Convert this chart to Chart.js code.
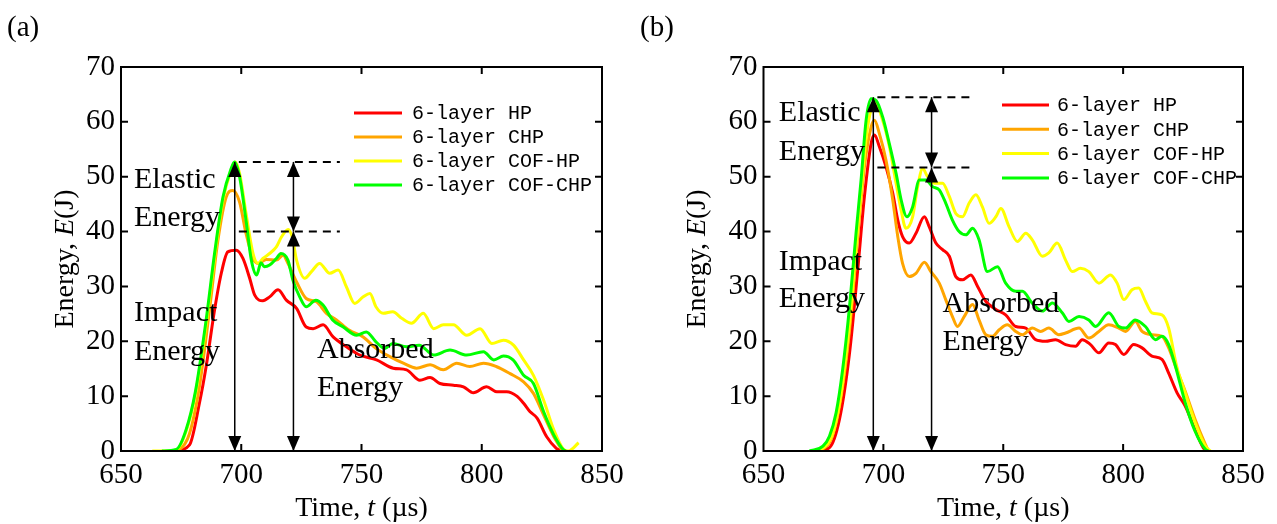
<!DOCTYPE html>
<html><head><meta charset="utf-8">
<script src="https://cdn.jsdelivr.net/npm/chart.js@4.4.1/dist/chart.umd.min.js"></script>
<style>
html,body{margin:0;padding:0;background:#fff;width:1277px;height:524px;overflow:hidden}
canvas{position:absolute;top:0}
#ca{left:0}
#cb{left:637px}
</style></head><body>
<canvas id="ca" width="640" height="524"></canvas>
<canvas id="cb" width="640" height="524"></canvas>
<script>
// ---------- shared ----------
const seriesLabels = ['6-layer HP', '6-layer CHP', '6-layer COF-HP', '6-layer COF-CHP'];
const seriesColors = ['#ff0000', '#ffa500', '#ffff00', '#00ff00'];
const xTicks = [650, 700, 750, 800, 850];
const yTicks = [0, 10, 20, 30, 40, 50, 60, 70];
const noteWords = ['Elastic', 'Energy', 'Impact', 'Energy', 'Absorbed', 'Energy'];

// ---------- panel (a) ----------
const aHP_t = [673, 678.5, 682.6, 685.4, 688.9, 691.7, 694.4, 697.9, 700.7, 703.5, 705.6, 709, 711.8, 715.3, 718.75, 723, 727, 729.9, 734, 738.2, 743.75, 749.3, 756.25, 763.2, 768.75, 774.3, 778.5, 782.6, 788.2, 792.4, 796.5, 802, 806.25, 810.4, 814.6, 817.4, 820, 823, 827, 831, 833];
const aHP_E = [0, 1.1, 8.7, 15.4, 25.7, 32.4, 36.3, 36.6, 35.1, 31.5, 28.4, 27.4, 28.1, 29.4, 27.5, 26, 22.6, 22.3, 23, 20.8, 19, 17.5, 16.6, 15.1, 14.8, 12.9, 13.4, 12.3, 12, 11.7, 10.6, 11.7, 10.8, 10.8, 10, 8.7, 7.2, 6, 2.6, 0.5, 0];
const aCHP_t = [671, 674.3, 678.5, 682.6, 686.8, 690.3, 693.75, 696.5, 699.3, 702, 704.9, 707, 710.4, 714.6, 717.4, 719.4, 723, 727, 731.25, 735.4, 739.6, 745, 750.7, 756, 761.8, 767.4, 772.9, 778.5, 784, 789.6, 795, 800.7, 806, 811.8, 817.4, 821.5, 825.7, 830, 833.3];
const aCHP_E = [0, 0.3, 3.2, 11.7, 25.7, 38.4, 46.3, 47.5, 45.4, 39.6, 35.1, 34.2, 34.9, 34.8, 35.7, 34.2, 30.8, 27.8, 27.2, 25.1, 23.9, 22, 20.8, 18.7, 17.2, 16, 15.1, 15.7, 14.8, 16, 15.4, 16, 15.4, 14.1, 12.6, 10.5, 6.6, 2.6, 0.2];
const aCOFHP_t = [663, 668, 673, 677, 681, 685.4, 689, 692.4, 695.8, 697.5, 699.3, 702, 704.9, 707, 709, 711.8, 714.6, 716.7, 719.5, 721.2, 723, 726.4, 729.2, 732.6, 736.8, 740.3, 743.75, 747.2, 750.7, 753.5, 756, 759, 763, 766.7, 770.8, 775.7, 780, 784, 788.2, 793.75, 799.3, 804.2, 809, 813.2, 817.4, 821.5, 825.7, 830, 834, 836, 840.3];
const aCOFHP_E = [0, 0, 0.2, 3.5, 10.5, 23, 35.5, 45.8, 51.2, 52.7, 50.6, 43.3, 36, 34.2, 35.1, 36, 37.2, 39, 40.4, 39, 34.8, 31.5, 32.7, 34.2, 32.4, 33, 29.9, 26.9, 28.1, 28.7, 26.3, 25.1, 25.4, 24.2, 23.3, 25.1, 22.3, 23, 23, 21.1, 22.3, 19.6, 20.2, 19.3, 16.6, 13.8, 9.3, 3.8, 0.3, 0, 1.5];
const aCOFCHP_t = [667, 673, 677, 681, 685.4, 688.9, 692.4, 695.8, 697.2, 699.3, 702, 704.2, 706.4, 708.2, 709.6, 711.8, 714.6, 716.5, 719.4, 721.5, 724.3, 727, 731, 734, 738, 742.4, 748, 752, 756, 759.7, 763, 768.75, 774, 780, 786.8, 793.75, 800.7, 805, 809, 813, 817.4, 821.5, 825.7, 830, 834, 835];
const aCOFCHP_E = [0, 0.3, 3.8, 11, 23.9, 36, 46.3, 51.5, 52.7, 50, 42, 34.8, 32.1, 34.3, 33.6, 33.9, 35.1, 36, 34.8, 31.1, 28.1, 26.3, 27.5, 26.6, 23.9, 22.6, 21.1, 21.7, 19.9, 18.7, 19.6, 19, 19.3, 17.5, 18.4, 17.5, 18.1, 16.6, 17.3, 16.6, 13.8, 12.3, 7.2, 2.9, 0.2, 0];
const aLevels = [52.7, 40];          // elastic top, absorbed top
const aArrowT = [697.3, 721.7];      // impact arrow, elastic/absorbed arrow
const aDashT = [699, 741];
const aNoteT = [655.4, 655.4, 655.4, 655.4, 731.5, 731.5];
const aNoteE = [49.4, 42.5, 25.2, 18.0, 18.4, 11.5];

// ---------- panel (b) ----------
const bHP_t = [672.7, 677.5, 681.7, 685.9, 689.3, 692.1, 694.9, 696.3, 698.3, 701.1, 703.9, 706, 708, 710.8, 713.6, 717.1, 719.1, 721.9, 724.7, 727.5, 730.2, 733, 736.5, 739.3, 742.7, 746.9, 751, 755.2, 759.4, 763.5, 767.7, 771.8, 776, 780.2, 782.9, 786.4, 789.9, 794, 796.8, 800.3, 804.4, 807.9, 812, 816.2, 819, 822.5, 825.9, 830, 833.4, 834.7];
const bHP_E = [0, 0.6, 5.8, 17.9, 33, 46.4, 56.1, 57.6, 55.5, 51.8, 47, 42.1, 39.1, 37.9, 39.7, 42.7, 40.9, 37.9, 36.7, 35.5, 31.8, 31.2, 32.1, 30, 27.3, 25.8, 24.8, 22.7, 22.4, 20.3, 20, 20.3, 19.4, 19.1, 20.3, 19.4, 17.9, 19.7, 19.4, 17.6, 19.4, 18.8, 17.3, 16.7, 14.2, 10.6, 8.2, 3.9, 0.6, 0];
const bCHP_t = [671.3, 677.5, 681.7, 685.9, 689.3, 692.1, 694.9, 696.3, 698.3, 701.1, 703.9, 706, 708, 710.8, 713.6, 717.1, 719.8, 723.3, 726, 728.8, 730.9, 733.7, 737.2, 739.9, 742.7, 745.5, 748.3, 751.7, 755.2, 758, 762.1, 765.6, 769, 773.2, 776, 781.6, 785.7, 789.9, 794, 798.2, 801, 805.1, 807.9, 812, 816.2, 819, 821.8, 825.9, 830, 834.3, 835.6];
const bCHP_E = [0, 1.5, 8.2, 22.1, 39.1, 51.8, 59.1, 60.3, 57.9, 53, 45.8, 39.1, 34.2, 31.8, 32.4, 34.4, 32.7, 30.6, 27.6, 24.5, 22.7, 24.5, 26.7, 23.9, 21.2, 20.9, 22.1, 23, 21.8, 21.2, 22.4, 21.8, 22.4, 21.2, 21.5, 22.4, 20.6, 21.8, 23, 22.4, 21.8, 23.6, 21.8, 21.2, 20.9, 18.8, 15.5, 10.9, 5.8, 1.2, 0];
const bCOFHP_t = [669.5, 675, 678, 680.3, 683, 686, 688.6, 690.7, 692.8, 695, 696.5, 699.7, 702.5, 705.3, 707.4, 709.4, 712.2, 714.3, 716.4, 718.4, 721.2, 724.7, 727.5, 730.2, 733, 735.8, 738.6, 741.3, 744.1, 746.9, 749, 752.4, 755.9, 759.4, 762.1, 766.3, 769, 772.5, 776, 778.8, 782.2, 785.7, 789.9, 794.7, 797.5, 800.3, 803.7, 806.5, 809.3, 812, 816.2, 819, 822.3, 825.9, 830, 834.3, 836.4];
const bCOFHP_E = [0, 0.6, 2.2, 5.5, 12.5, 24, 37, 47, 57, 62.5, 63.5, 60.3, 55.5, 48.8, 43.9, 40.6, 42.7, 48.2, 51.5, 50, 48.8, 48.8, 46.4, 43.3, 42.7, 45.2, 46.7, 44.5, 41.5, 42.7, 44.2, 40.9, 38.2, 39.7, 38.5, 35.5, 36.1, 37.9, 34.8, 32.7, 33.3, 32.7, 30.6, 32.1, 30.6, 27.6, 29.4, 29.7, 27.3, 25.2, 24.8, 22.4, 15.5, 10.6, 5.2, 0.9, 0];
const bCOFCHP_t = [669.2, 674.8, 677.5, 680.3, 683, 685.9, 688.6, 690.7, 692.8, 694.9, 697, 699.7, 702.5, 705.3, 707.4, 709.8, 712.2, 715, 717.75, 720.5, 723.3, 726, 728.8, 731.6, 734.4, 737.2, 739.9, 743.4, 747.6, 751, 755.2, 758, 762, 766.3, 770.5, 774.6, 777.4, 781.6, 785.7, 788.5, 794, 798.2, 801, 805, 809.3, 813.5, 816.2, 819, 821.8, 825.9, 830, 834.3, 835.6];
const bCOFCHP_E = [0, 0.9, 2.7, 7, 14.8, 26.4, 39.7, 49.4, 60.3, 64.2, 63.9, 60.9, 56, 50.6, 45.8, 42.7, 44.5, 49.4, 49.4, 48.2, 47.6, 45.2, 42.1, 40, 39.4, 40.6, 38.5, 32.7, 33.6, 30.6, 29.1, 29.1, 27, 25.5, 27, 25.2, 23.6, 24.5, 23.9, 22.7, 25.2, 22.7, 22.4, 23.9, 22.7, 20.3, 20.9, 19.4, 15.5, 8.8, 3.6, 0.3, 0];
const bLevels = [64.5, 51.7];
const bArrowT = [695.8, 720.1];
const bDashT = [697.5, 738];
const bNoteT = [656.4, 656.4, 656.4, 656.4, 724.7, 724.7];
const bNoteE = [61.6, 54.5, 34.5, 27.6, 26.7, 19.9];

// ---------- drawing helpers ----------
const SERIF = '"Liberation Serif", "Times New Roman", serif';
function pts(t, e) { return t.map((v, i) => ({x: v, y: e[i]})); }

function triangle(ctx, x, yApex, dir) { // dir -1 up, +1 down
  const h = 15, w = 6.5;
  ctx.beginPath();
  ctx.moveTo(x, yApex);
  ctx.lineTo(x - w, yApex - dir * h);
  ctx.lineTo(x + w, yApex - dir * h);
  ctx.closePath();
  ctx.fill();
}
function dArrow(ctx, x, yTop, yBot) {
  ctx.beginPath(); ctx.moveTo(x, yTop); ctx.lineTo(x, yBot); ctx.stroke();
  triangle(ctx, x, yTop, -1);
  triangle(ctx, x, yBot, 1);
}
function mixedText(ctx, parts, size) {
  let w = 0;
  parts.forEach(p => { ctx.font = (p[1] ? 'italic ' : '') + size + 'px ' + SERIF; w += ctx.measureText(p[0]).width; });
  let x = -w / 2;
  parts.forEach(p => { ctx.font = (p[1] ? 'italic ' : '') + size + 'px ' + SERIF; ctx.fillText(p[0], x, 0); x += ctx.measureText(p[0]).width; });
}

function makePanel(id, P) {
  const decor = {
    id: 'decor',
    afterDraw(chart) {
      const ctx = chart.ctx, a = chart.chartArea, xs = chart.scales.x, ys = chart.scales.y;
      ctx.save();
      // frame
      ctx.strokeStyle = '#000'; ctx.lineWidth = 2;
      ctx.strokeRect(a.left, a.top, a.right - a.left, a.bottom - a.top);
      // inward ticks
      ctx.beginPath();
      xTicks.slice(1, -1).forEach(v => {
        const px = xs.getPixelForValue(v);
        ctx.moveTo(px, a.bottom); ctx.lineTo(px, a.bottom - 7);
        ctx.moveTo(px, a.top); ctx.lineTo(px, a.top + 7);
      });
      yTicks.slice(1, -1).forEach(v => {
        const py = ys.getPixelForValue(v);
        ctx.moveTo(a.left, py); ctx.lineTo(a.left + 7, py);
        ctx.moveTo(a.right, py); ctx.lineTo(a.right - 7, py);
      });
      ctx.stroke();
      // dashed level lines
      ctx.setLineDash([8, 6]); ctx.lineWidth = 2;
      ctx.beginPath();
      P.levels.forEach(E => {
        const py = ys.getPixelForValue(E);
        ctx.moveTo(xs.getPixelForValue(P.dashT[0]), py);
        ctx.lineTo(xs.getPixelForValue(P.dashT[1]), py);
      });
      ctx.stroke();
      ctx.setLineDash([]);
      // arrows
      ctx.lineWidth = 1.5; ctx.fillStyle = '#000';
      const yTop = ys.getPixelForValue(P.levels[0]), yMid = ys.getPixelForValue(P.levels[1]), y0 = ys.getPixelForValue(0);
      dArrow(ctx, xs.getPixelForValue(P.arrowT[0]), yTop, y0);
      const x2 = xs.getPixelForValue(P.arrowT[1]);
      dArrow(ctx, x2, yTop, yMid);
      dArrow(ctx, x2, yMid, y0);
      // notes
      ctx.font = '30px ' + SERIF; ctx.textAlign = 'left'; ctx.textBaseline = 'middle';
      noteWords.forEach((w, i) => ctx.fillText(w, xs.getPixelForValue(P.noteT[i]), ys.getPixelForValue(P.noteE[i])));
      // legend
      ctx.font = '20px "Liberation Mono", monospace';
      seriesLabels.forEach((lab, i) => {
        const y = a.top + P.leg[3] + i * P.leg[4];
        ctx.strokeStyle = seriesColors[i]; ctx.lineWidth = 3;
        ctx.beginPath(); ctx.moveTo(a.left + P.leg[0], y); ctx.lineTo(a.left + P.leg[1], y); ctx.stroke();
        ctx.fillStyle = '#000';
        ctx.fillText(lab, a.left + P.leg[2], y + 1);
      });
      // axis titles
      ctx.fillStyle = '#000'; ctx.textAlign = 'left';
      ctx.save();
      ctx.translate(a.left - P.yTitleOff, (a.top + a.bottom) / 2);
      ctx.rotate(-Math.PI / 2);
      ctx.textBaseline = 'middle';
      mixedText(ctx, [['Energy, ', false], ['E', true], ['(J)', false]], 28);
      ctx.restore();
      ctx.save();
      ctx.translate((a.left + a.right) / 2, 516);
      ctx.textBaseline = 'alphabetic';
      mixedText(ctx, [['Time, ', false], ['t', true], [' (\u00b5s)', false]], 28);
      ctx.restore();
      // panel tag
      ctx.font = '29px ' + SERIF; ctx.textBaseline = 'alphabetic'; ctx.textAlign = 'left';
      ctx.fillText(P.tag, P.tagX, 36);
      ctx.restore();
    }
  };
  const order = [4, 3, 2, 1];
  return new Chart(document.getElementById(id), {
    type: 'line',
    data: {
      datasets: P.series.map((s, i) => ({
        label: seriesLabels[i],
        data: pts(s[0], s[1]),
        borderColor: seriesColors[i],
        borderWidth: 3,
        pointRadius: 0,
        fill: false,
        cubicInterpolationMode: 'monotone',
        order: order[i]
      }))
    },
    options: {
      responsive: false, animation: false, devicePixelRatio: 1,
      layout: {padding: {left: 0, right: P.padRight, top: 67, bottom: 0}},
      plugins: {legend: {display: false}, tooltip: {enabled: false}},
      scales: {
        x: {
          type: 'linear', min: 650, max: 850,
          afterBuildTicks: s => { s.ticks = xTicks.map(v => ({value: v})); },
          afterFit: s => { s.height = 73; },
          grid: {display: false, drawTicks: false}, border: {display: false},
          ticks: {color: '#000', font: {family: SERIF, size: 29}, padding: 7, maxRotation: 0, autoSkip: false}
        },
        y: {
          type: 'linear', min: 0, max: 70,
          afterBuildTicks: s => { s.ticks = yTicks.map(v => ({value: v})); },
          afterFit: s => { s.width = P.yWidth; },
          grid: {display: false, drawTicks: false}, border: {display: false},
          ticks: {color: '#000', font: {family: SERIF, size: 29}, padding: 6}
        }
      }
    },
    plugins: [decor]
  });
}

makePanel('ca', {
  series: [[aHP_t, aHP_E], [aCHP_t, aCHP_E], [aCOFHP_t, aCOFHP_E], [aCOFCHP_t, aCOFCHP_E]],
  levels: aLevels, arrowT: aArrowT, dashT: aDashT, noteT: aNoteT, noteE: aNoteE,
  leg: [233, 281, 291, 46, 24], yTitleOff: 55, tag: '(a)', tagX: 7, yWidth: 121, padRight: 38
});
makePanel('cb', {
  series: [[bHP_t, bHP_E], [bCHP_t, bCHP_E], [bCOFHP_t, bCOFHP_E], [bCOFCHP_t, bCOFCHP_E]],
  levels: bLevels, arrowT: bArrowT, dashT: bDashT, noteT: bNoteT, noteE: bNoteE,
  leg: [238.5, 285.5, 293.5, 38, 24.3], yTitleOff: 66, tag: '(b)', tagX: 3, yWidth: 126.5, padRight: 34
});
</script>
</body></html>
